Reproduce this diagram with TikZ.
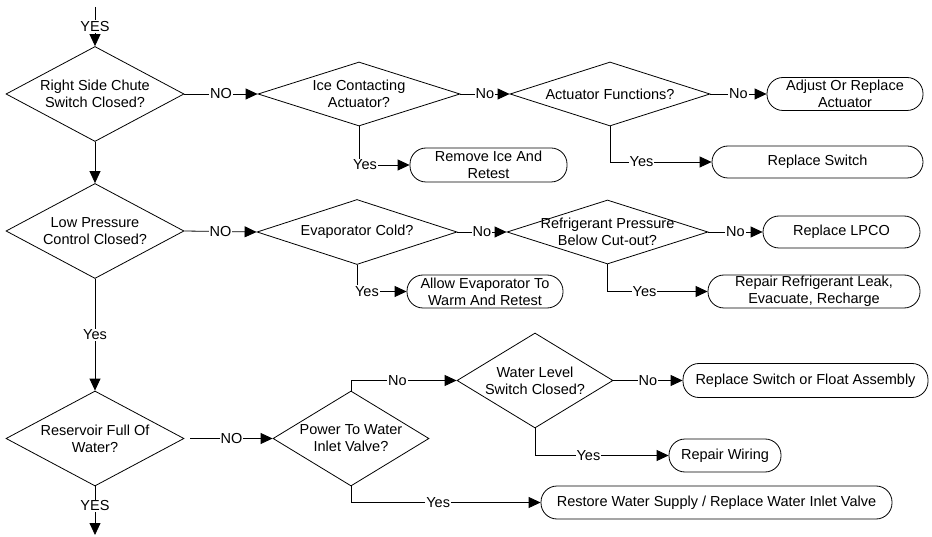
\documentclass[tikz,border=0pt]{standalone}
\usepackage{fontspec}
\setmainfont{Liberation Sans}
\usetikzlibrary{shapes.geometric,arrows.meta}
\begin{document}
\begin{tikzpicture}[x=1pt,y=-1pt, line width=0.8pt,
  font=\fontsize{14.5}{17}\selectfont,
  dec/.style args={#1x#2}{diamond, draw, inner sep=0pt, minimum width=#1pt, minimum height=#2pt},
  term/.style args={#1x#2}{draw, rounded corners=16pt, inner sep=0pt, align=center, minimum width=#1pt, minimum height=#2pt},
  arr/.style={-{Triangle[length=12pt,width=11pt]}},
  lbl/.style={fill=white, inner sep=1pt}]
\useasboundingbox (0,0) rectangle (932,537);

% decisions
\node[dec=178x95, label={[align=center]center:Right Side Chute\\Switch Closed?}] (d1) at (95,94) {};
\node[dec=202x64, label={[align=center]center:Ice Contacting\\Actuator?}] (d2) at (359,94) {};
\node[dec=200x64, label={[align=center]center:Actuator Functions?}] (d3) at (610,94) {};
\node[dec=178x95, label={[align=center]center:Low Pressure\\Control Closed?}] (d4) at (95,231) {};
\node[dec=200x65, label={[align=center]center:Evaporator Cold?}] (d5) at (357,232) {};
\node[dec=201x64, label={[align=center]center:Refrigerant Pressure\\Below Cut-out?}] (d6) at (607.5,232) {};
\node[dec=178x95, label={[align=center]center:Reservoir Full Of\\Water?}] (d7) at (95,438.5) {};
\node[dec=156x95, label={[align=center]center:Power To Water\\Inlet Valve?}] (d8) at (351,438.5) {};
\node[dec=156x95, label={[align=center]center:Water Level\\Switch Closed?}] (d9) at (535,380.5) {};

% terminals
\node[term=156x33] (b1) at (845,94) {Adjust Or Replace\\Actuator};
\node[term=157x34] (b2) at (488.5,165) {Remove Ice And\\Retest};
\node[term=211x32] (b3) at (817.5,162) {Replace Switch};
\node[term=157x32] (b4) at (841.5,232) {Replace LPCO};
\node[term=156x33] (b5) at (485,291.5) {Allow Evaporator To\\Warm And Retest};
\node[term=212x33] (b6) at (814,291.5) {Repair Refrigerant Leak,\\Evacuate, Recharge};
\node[term=245x34] (b7) at (805.5,380.5) {Replace Switch or Float Assembly};
\node[term=112x33] (b8) at (725,455.5) {Repair Wiring};
\node[term=351x33] (b9) at (716.5,502.5) {Restore Water Supply / Replace Water Inlet Valve};

\coordinate (top) at (95,7);
\coordinate (bot) at (95,535);

% main column
\draw[arr] (top) -- node[lbl]{YES} (d1.north);
\draw[arr] (d1.south) -- (d4.north);
\draw[arr] (d4.south) -- node[lbl]{Yes} (d7.north);
\draw[arr] (d7.south) -- node[lbl, pos=0.4]{YES} (bot);

% row 1
\draw[arr] (d1.east) -- node[lbl]{NO} (d2.west);
\draw[arr] (d2.east) -- node[lbl]{No} (d3.west);
\draw[arr] (d3.east) -- node[lbl]{No} (b1.west);
\draw[arr] (d2.south) |- node[lbl, pos=0.56]{Yes} (b2.west);
\draw[arr] (d3.south) |- node[lbl, pos=0.655]{Yes} (b3.west);

% row 2
\draw[arr] (d4.east) -- node[lbl]{NO} (d5.west);
\draw[arr] (d5.east) -- node[lbl]{No} (d6.west);
\draw[arr] (d6.east) -- node[lbl]{No} (b4.west);
\draw[arr] (d5.south) |- node[lbl, pos=0.6]{Yes} (b5.west);
\draw[arr] (d6.south) |- node[lbl, pos=0.685]{Yes} (b6.west);

% row 3
\draw[arr] ([xshift=6pt]d7.east) -- node[lbl]{NO} (d8.west);
\draw[arr] (d8.north) |- node[lbl, pos=0.72]{No} (d9.west);
\draw[arr] (d9.east) -- node[lbl]{No} (b7.west);
\draw[arr] (d9.south) |- node[lbl, pos=0.7]{Yes} (b8.west);
\draw[arr] (d8.south) |- node[lbl, pos=0.73]{Yes} (b9.west);
\end{tikzpicture}
\end{document}
